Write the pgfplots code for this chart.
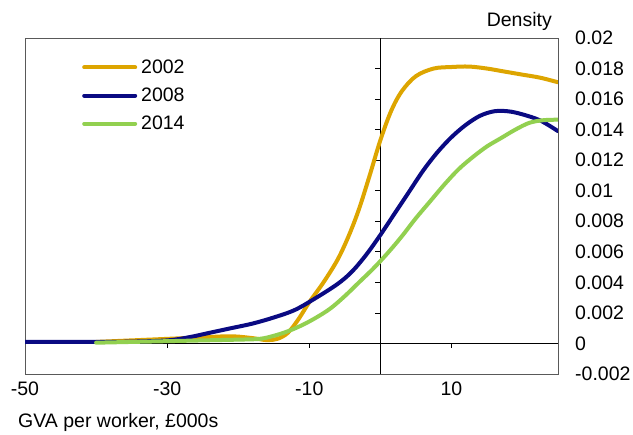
\documentclass[border=0pt]{standalone}
\usepackage{fontspec}
\setmainfont{Liberation Sans}
\usepackage{pgfplots}
\pgfplotsset{compat=1.18}
\definecolor{c02}{HTML}{DDA500}
\definecolor{c08}{HTML}{0A0A82}
\definecolor{c14}{HTML}{92D050}
\newcommand{\chartfont}{\fontsize{19.5bp}{22bp}\selectfont}
\begin{document}
\begin{tikzpicture}
\path[use as bounding box] (-25bp,-61bp) rectangle (608bp,374bp);
\begin{axis}[
  at={(0,0)}, anchor=south west,
  scale only axis, width=533bp, height=336bp,
  xmin=-50, xmax=25, ymin=-0.002, ymax=0.02,
  axis line style={draw=black!65, line width=0.8bp},
  xtick={-50,-30,-10,10}, xticklabels={-50,-30,-10,10},
  ytick={-0.002,0,0.002,0.004,0.006,0.008,0.01,0.012,0.014,0.016,0.018,0.02},
  yticklabels={-0.002,0,0.002,0.004,0.006,0.008,0.01,0.012,0.014,0.016,0.018,0.02},
  scaled y ticks=false, scaled x ticks=false,
  major tick length=0pt,
  xtick pos=bottom, ytick pos=right, yticklabel pos=right,
  tick label style={font=\chartfont},
  xticklabel style={anchor=north, inner sep=0pt, yshift=-8bp},
  yticklabel style={anchor=west, inner sep=0pt, xshift=17bp},
  legend style={at={(rel axis cs:0,1)}, anchor=north west, draw=none, fill=none,
    font=\chartfont, inner sep=0pt, row sep=13bp, column sep=4bp,
    nodes={inner sep=0pt, anchor=west}, xshift=57bp, yshift=-21.7bp},
  legend cell align=left,
  legend image code/.code={\draw[#1] (0bp,0bp) -- (51bp,0bp);},
  every axis plot/.append style={line width=4bp, line cap=round, line join=round},
]
\draw[black, line width=0.8bp] (axis cs:0,-0.002) -- (axis cs:0,0.02);
\draw[black, line width=0.8bp] (axis cs:-50,0) -- (axis cs:25,0);
\pgfplotsinvokeforeach{-30,-10,10}{\draw[black, line width=0.8bp] (axis cs:#1,0) -- (axis cs:#1,-0.00033);}
\pgfplotsinvokeforeach{0.002,0.004,0.006,0.008,0.01,0.012,0.014,0.016,0.018}{\draw[black, line width=0.8bp] (axis cs:0,#1) -- (axis cs:-0.7,#1);}

\addplot[c02, smooth, tension=0.55] coordinates {
(-40,0.0001) (-35,0.0002) (-30,0.0003) (-25,0.0004) (-21,0.00047) (-18,0.00035)
(-16,0.00022) (-14.5,0.0003) (-13,0.0007) (-11.5,0.0016) (-10,0.0027) (-8,0.0040)
(-6,0.0055) (-4.4,0.0071) (-3,0.0088) (-1.5,0.0110) (0,0.0133) (1.5,0.0152)
(3,0.0165) (5,0.0175) (7.5,0.0180) (10,0.0181) (12.5,0.01813) (15,0.0180)
(17.5,0.0178) (20,0.0176) (22.5,0.0174) (25,0.0171)};
\addlegendentry{2002}
\addplot[c08, smooth, tension=0.55] coordinates {
(-50,0.0001) (-40,0.0001) (-35,0.00012) (-30,0.0002) (-27,0.0004) (-24,0.0007)
(-21,0.001) (-18,0.0013) (-15,0.0017) (-12,0.0022) (-9,0.0030) (-6,0.0039)
(-4,0.0047) (-2,0.0058) (0,0.0071) (2,0.0085) (4,0.0099) (6,0.0113) (8,0.0125)
(10,0.0135) (12,0.0143) (14,0.0149) (16,0.0152) (18,0.0152) (20,0.0150)
(22.5,0.0146) (25,0.0139)};
\addlegendentry{2008}
\addplot[c14, smooth, tension=0.55] coordinates {
(-40,0.00005) (-35,0.0001) (-30,0.00015) (-25,0.0002) (-20,0.00025) (-17,0.0003)
(-15,0.0005) (-13,0.0008) (-11,0.0012) (-9,0.0017) (-7,0.0023) (-5,0.0031)
(-3,0.0040) (-1,0.0049) (1,0.0059) (3,0.0070) (5,0.0082) (7,0.0093) (9,0.0104)
(11,0.0114) (13,0.0122) (15,0.0129) (17,0.01345) (19,0.0140) (21,0.01445)
(23,0.01462) (25,0.01465)};
\addlegendentry{2014}
\end{axis}
\node[anchor=base east, inner sep=0pt, font=\chartfont] at (527bp,347bp) {Density};
\node[anchor=base west, inner sep=0pt, font=\chartfont] at (-7bp,-53bp) {GVA per worker, £000s};
\end{tikzpicture}
\end{document}
